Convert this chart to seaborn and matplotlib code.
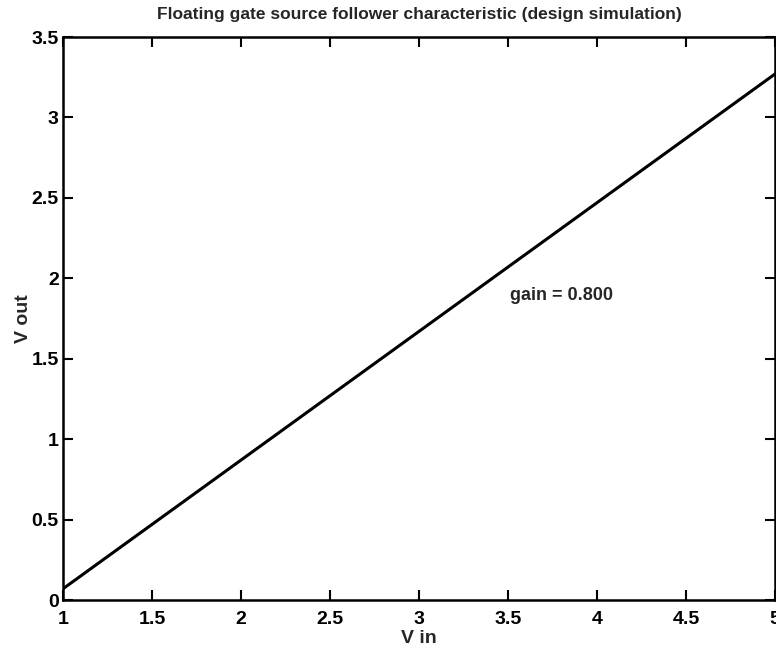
import numpy as np
import pandas as pd
import seaborn as sns
import matplotlib
matplotlib.use('Agg')
import matplotlib.pyplot as plt

# values
v_in = [1.0, 1.5, 2.0, 2.5, 3.0, 3.5, 4.0, 4.5, 5.0]
v_out = [0.07, 0.47, 0.87, 1.27, 1.67, 2.07, 2.47, 2.87, 3.27]
x_ticks = [1, 1.5, 2, 2.5, 3, 3.5, 4, 4.5, 5]
y_ticks = [0, 0.5, 1, 1.5, 2, 2.5, 3, 3.5]
gain_label = 'gain = 0.800'

df = pd.DataFrame({'V in': v_in, 'V out': v_out})

sns.set_style('ticks')
plt.rcParams['font.family'] = ['Liberation Sans', 'DejaVu Sans']
plt.rcParams['font.weight'] = 'bold'

fig = plt.figure(figsize=(7.76, 6.47), dpi=100)
ax = fig.add_axes([0.0812, 0.0726, 0.9175, 0.8702])

sns.lineplot(data=df, x='V in', y='V out', color='black', linewidth=2.2, ax=ax)

ax.set_xlim(1, 5)
ax.set_ylim(0, 3.5)
ax.set_xticks(x_ticks)
ax.set_yticks(y_ticks)
ax.set_xticklabels(['1', '1.5', '2', '2.5', '3', '3.5', '4', '4.5', '5'])
ax.set_yticklabels(['0', '0.5', '1', '1.5', '2', '2.5', '3', '3.5'])
ax.tick_params(direction='in', length=7, width=1.5, top=True, right=True,
               labelsize=14, colors='black')
ax.tick_params(axis='x', pad=8)
ax.tick_params(axis='y', pad=3)
for lbl in ax.get_xticklabels() + ax.get_yticklabels():
    lbl.set_fontweight('bold')
for s in ax.spines.values():
    s.set_visible(True)
    s.set_linewidth(1.8)
    s.set_color('black')

ax.set_xlabel('V in', fontsize=14, fontweight='bold', labelpad=1)
ax.set_ylabel('V out', fontsize=14, fontweight='bold', labelpad=0)
ax.set_title('Floating gate source follower characteristic (design simulation)',
             fontsize=12.5, fontweight='bold', pad=13)

ax.text(3.51, 1.89, gain_label, fontsize=13, fontweight='bold', va='center', ha='left')

plt.savefig('out.png', dpi=100)
